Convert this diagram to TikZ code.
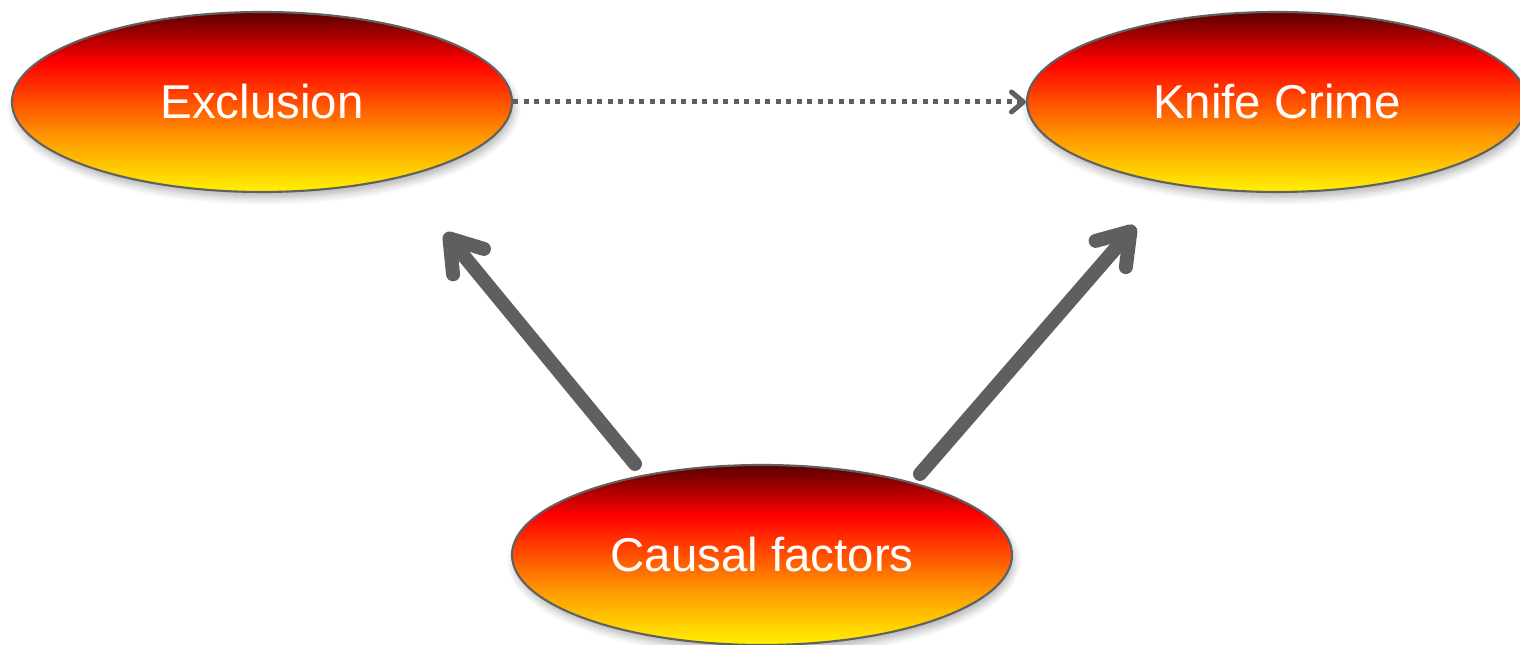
\documentclass[tikz,border=0pt]{standalone}
\usepackage{fontspec}
\setmainfont{Liberation Sans}
\usetikzlibrary{shapes.geometric, arrows.meta, shadows.blur}
\definecolor{arrowgray}{HTML}{5F5F5F}
\definecolor{edgegray}{HTML}{606060}
\pgfdeclareverticalshading{fireball}{100bp}{color(0bp)=(yellow!90!orange); color(25bp)=(yellow!90!orange); color(40bp)=(orange!80!yellow); color(61bp)=(red); color(75bp)=(red!35!black); color(100bp)=(red!35!black)}
\begin{document}
\begin{tikzpicture}[
  blob/.style={shape=ellipse, draw=edgegray, line width=0.6pt, shading=fireball, minimum width=5cm, minimum height=1.8cm, inner sep=0pt, text=white, font=\fontsize{13.5}{16}\selectfont, blur shadow={shadow xshift=0.6pt, shadow yshift=-1.6pt, shadow opacity=30, shadow blur steps=6}},
  bigarrow/.style={draw=arrowgray, line width=0.14cm, line cap=round, -{Straight Barb[round, length=0.3cm, width=0.4cm]}},
  dotarrow/.style={draw=arrowgray, line width=0.05cm, dash pattern=on 0.05cm off 0.055cm, -{Straight Barb[round, length=0.12cm, width=0.2cm]}}
]
\useasboundingbox (0,0) rectangle (15.2,-6.45);
\node[blob] (excl) at (2.62,-1.02) {Exclusion};
\node[blob] (knife) at (12.77,-1.02) {Knife Crime};
\node[blob] (causal) at (7.62,-5.55) {Causal factors};
\draw[dotarrow] (excl) -- (knife);
\draw[bigarrow] ([xshift=-1.27cm]causal.north) -- ([xshift=1.83cm, yshift=-0.4cm]excl.south);
\draw[bigarrow] ([xshift=1.58cm, yshift=-0.1cm]causal.north) -- ([xshift=-1.42cm, yshift=-0.33cm]knife.south);
\end{tikzpicture}
\end{document}
